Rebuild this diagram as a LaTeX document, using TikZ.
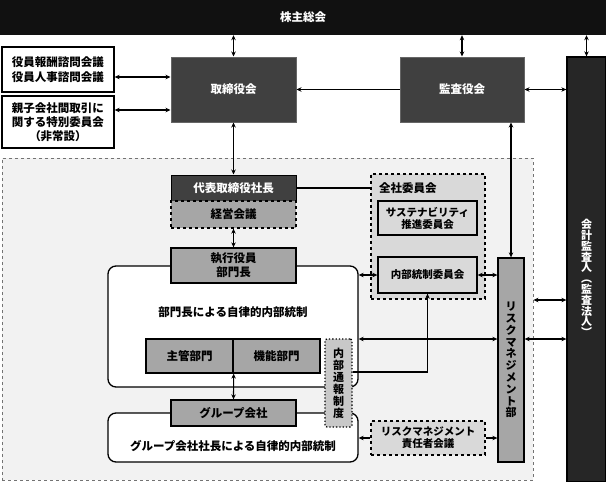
\documentclass[tikz,border=0pt]{standalone}
\usepackage{fontspec}
\setmainfont{Noto Sans CJK JP}
\usetikzlibrary{arrows.meta,calc}
\definecolor{cBlack}{HTML}{111111}
\definecolor{cDark}{HTML}{404040}
\definecolor{cAud}{HTML}{262626}
\definecolor{cGray}{HTML}{A6A6A6}
\definecolor{cLight}{HTML}{D9D9D9}
\definecolor{cReg}{HTML}{F2F2F2}
\definecolor{cTsu}{HTML}{C8C8C8}
\tikzset{
  base/.style={inner sep=0pt, align=center, font=\fontsize{11.5}{14}\selectfont\bfseries},
  wh/.style 2 args={minimum width=#1pt, minimum height=#2pt},
  darkbox/.style={base, fill=cDark, text=white, draw=black, line width=1pt},
  graybox/.style={base, fill=cGray, draw=black, line width=1.3pt},
  lightbox/.style={base, fill=cLight, draw=black, line width=1.3pt},
  whitebox/.style={base, fill=white, draw=black, line width=1.3pt},
  conn/.style={line width=1.1pt, black},
  dbl/.style={conn, {Stealth[length=5pt,width=4.5pt]}-{Stealth[length=5pt,width=4.5pt]}},
  one/.style={conn, -{Stealth[length=5pt,width=4.5pt]}},
  vtext/.style={base, font=\fontsize{11}{12}\selectfont\bfseries},
}
\begin{document}
\begin{tikzpicture}[x=1pt,y=-1pt]
\useasboundingbox (0,0) rectangle (606,482);
\fill[white] (0,0) rectangle (606,482);
% region
\node[draw=black!55, dashed, fill=cReg, line width=0.9pt, inner sep=0pt, wh={531}{322}] (reg) at (267.5,319) {};
% rounded boxes
\node[whitebox, rounded corners=8pt, wh={250}{121}] (r1) at (233,326.5) {};
\node[whitebox, rounded corners=8pt, wh={250}{49}] (r2) at (233,437.5) {};
\node[base] (t1) at (233,312) {部門長による自律的内部統制};
\node[base] (t2) at (233,446) {グループ会社社長による自律的内部統制};
% top
\node[base, fill=cBlack, text=white, wh={606}{35}] (sh) at (303,17.5) {株主総会};
\node[whitebox, font=\fontsize{11.5}{15}\selectfont\bfseries, wh={112}{45}] (yak) at (58,69.5) {役員報酬諮問会議\\役員人事諮問会議};
\node[whitebox, wh={112}{52}] (oya) at (58,122) {親子会社間取引に\\関する特別委員会\\（非常設）};
\node[darkbox, draw=black!60, wh={125}{65}] (tor) at (233.5,89.5) {取締役会};
\node[darkbox, draw=black!60, wh={124}{65}] (kan) at (462,89.5) {監査役会};
\node[base, fill=cAud, draw=black, line width=1.3pt, wh={39}{425}] (kai) at (586.5,269.5) {};
\node[vtext, text=white, font=\fontsize{11}{10.8}\selectfont\bfseries] (kait) at (586.5,278) {会\\計\\監\\査\\人\\︵\\監\\査\\法\\人\\︶};
% committees
\node[base, fill=cLight, draw=black, dashed, line width=1.3pt, wh={114}{125}] (zen) at (428,236.5) {};
\node[base, anchor=west] (zent) at (379,188) {全社委員会};
\node[lightbox, font=\fontsize{10.5}{12}\selectfont\bfseries, wh={99}{34}] (sus) at (427.5,218) {サステナビリティ\\推進委員会};
\node[lightbox, font=\fontsize{10.5}{12}\selectfont\bfseries, wh={99}{36}] (nai) at (427.5,275) {内部統制委員会};
\node[graybox, font=\fontsize{11}{11.8}\selectfont\bfseries, wh={26}{204}] (rm) at (511,360) {リ\\ス\\ク\\マ\\ネ\\ジ\\メ\\ン\\ト\\部};
% executive column
\node[darkbox, wh={125}{26}] (dai) at (233.5,188) {代表取締役社長};
\node[graybox, dashed, wh={125}{27}] (kei) at (233.5,214.5) {経営会議};
\node[graybox, wh={125}{35}] (shk) at (233.5,265.5) {執行役員\\部門長};
\node[graybox, wh={87}{34}] (shu) at (189.5,356) {主管部門};
\node[graybox, wh={87}{34}] (kin) at (276.5,356) {機能部門};
\node[graybox, wh={125}{26}] (grp) at (233.5,413) {グループ会社};
\node[vtext, fill=cTsu, draw=black, dotted, line width=1.3pt, rounded corners=2pt, wh={27}{88}] (tsu) at (338.5,383) {内\\部\\通\\報\\制\\度};
\node[base, fill=cLight, draw=black, dashed, line width=1.3pt, font=\fontsize{10.5}{12}\selectfont\bfseries, wh={114}{34}] (rmk) at (428,438) {リスクマネジメント\\責任者会議};
% connectors
\draw[dbl] (sh.south -| tor.north) -- (tor.north);
\draw[dbl] (sh.south -| kan.north) -- (kan.north);
\draw[dbl] (sh.south -| kai.north) -- (kai.north);
\draw[dbl] (yak.east |- 0,77) -- (tor.west |- 0,77);
\draw[dbl] (oya.east |- 0,110) -- (tor.west |- 0,110);
\draw[one] (kan.west) -- (tor.east);
\draw[dbl] (kan.east) -- (kai.west |- kan.east);
\draw[dbl] (tor.south) -- (dai.north);
\draw[dbl] (kan.south -| rm.north) -- (rm.north);
\draw[conn] (dai.east) -- (dai.east -| zen.west);
\draw[dbl] (kei.south) -- (shk.north);
\draw[dbl] (r1.east |- nai.west) -- (nai.west);
\draw[dbl] (nai.east) -- (rm.west |- nai.east);
\draw[one] (tsu.east |- 0,372) -| (nai.south);
\draw[dbl] (r1.east |- 0,339) -- (rm.west |- 0,339);
\draw[dbl] (rm.east |- 0,339) -- (kai.west |- 0,339);
\draw[dbl] (reg.east |- 0,300) -- (kai.west |- 0,300);
\draw[dbl] (shu.south east) -- (grp.north);
\draw[one] (rmk.west) -- (rmk.west -| r2.east);
\draw[one] (rmk.east) -- (rmk.east -| rm.west);
\end{tikzpicture}
\end{document}
